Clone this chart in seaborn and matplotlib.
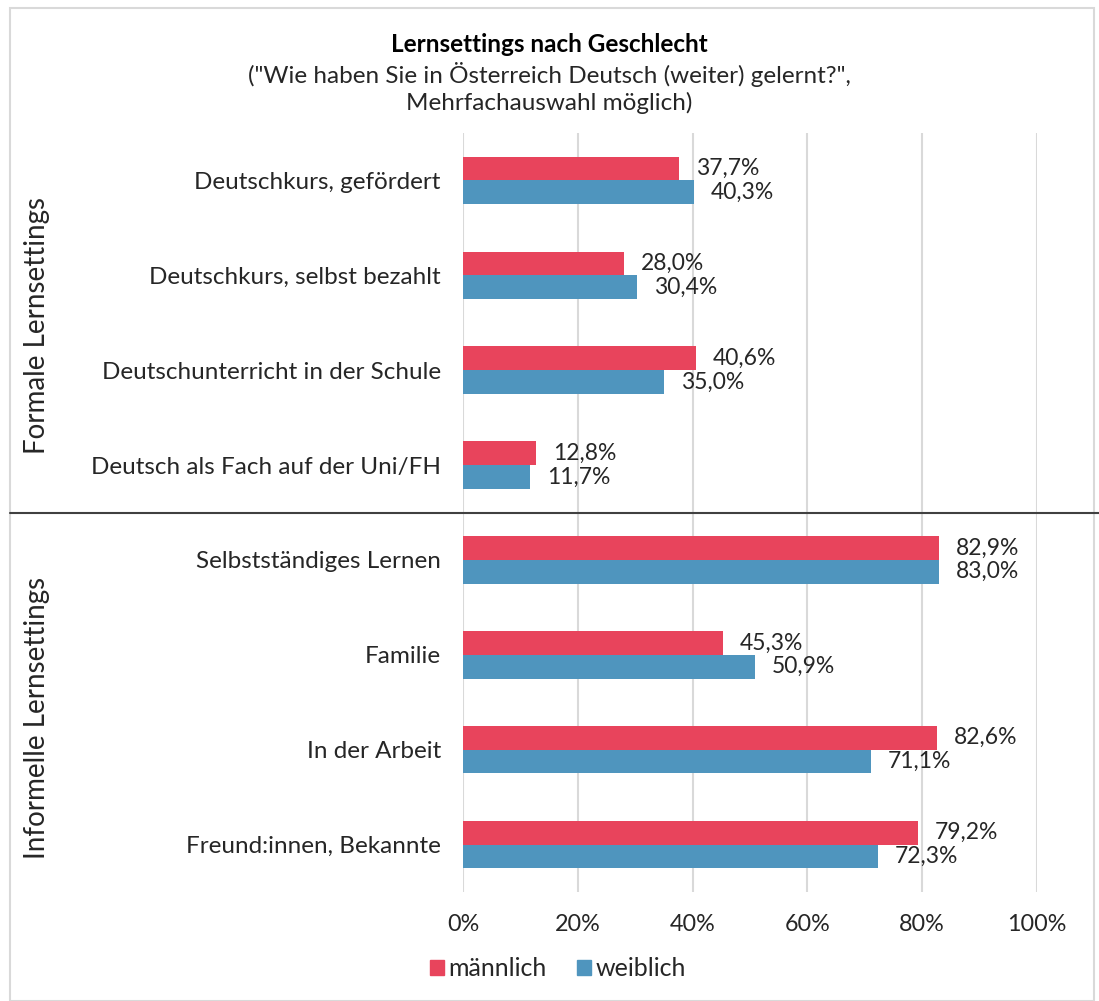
import pandas as pd
import matplotlib.pyplot as plt
import seaborn as sns
from matplotlib.patches import Rectangle
from matplotlib.lines import Line2D

CATEGORIES = ["Deutschkurs, gefördert", "Deutschkurs, selbst bezahlt",
              "Deutschunterricht in der Schule", "Deutsch als Fach auf der Uni/FH",
              "Selbstständiges Lernen", "Familie", "In der Arbeit",
              "Freund:innen, Bekannte"]
MAENNLICH = [37.7, 28.0, 40.6, 12.8, 82.9, 45.3, 82.6, 79.2]
WEIBLICH = [40.3, 30.4, 35.0, 11.7, 83.0, 50.9, 71.1, 72.3]
GENDERS = ["männlich", "weiblich"]
COLORS = ["#E8445C", "#4F95BE"]
GROUPS = ["Formale Lernsettings", "Informelle Lernsettings"]
X_TICKS = [0, 20, 40, 60, 80, 100]

df = pd.DataFrame({
    "setting": CATEGORIES * 2,
    "value": MAENNLICH + WEIBLICH,
    "gender": [GENDERS[0]] * len(CATEGORIES) + [GENDERS[1]] * len(CATEGORIES),
})

sns.set_theme(style="white")
plt.rcParams["font.family"] = ["Lato", "DejaVu Sans"]
TXT = "#262626"

fig = plt.figure(figsize=(10.99, 10.01), dpi=100)
ax = fig.add_axes([463 / 1099, 1 - 892 / 1001, 574 / 1099, 759 / 1001])

sns.barplot(data=df, y="setting", x="value", hue="gender", palette=COLORS,
            orient="h", width=0.5, ax=ax, legend=False, saturation=1,
            linewidth=0)

for container in ax.containers:
    labels = [f"{v:.1f}%".replace(".", ",") for v in container.datavalues]
    ax.bar_label(container, labels=labels, padding=12, fontsize=16.5, color=TXT)

ax.set_xlim(0, 100)
ax.set_xticks(X_TICKS)
ax.set_xticklabels([f"{t}%" for t in X_TICKS])
ax.set_ylim(7.5, -0.5)
ax.set_xlabel("")
ax.set_ylabel("")
ax.grid(axis="x", color="#d9d9d9", linewidth=1.5)
ax.set_axisbelow(True)
for s in ax.spines.values():
    s.set_visible(False)
ax.tick_params(axis="y", length=0, labelsize=17.5, labelcolor=TXT, pad=16)
ax.tick_params(axis="x", length=0, labelsize=16.8, labelcolor=TXT, pad=16)

# frame and separator between the two groups
fig.add_artist(Rectangle((10 / 1099, 0), 1084 / 1099, 1 - 8 / 1001,
                         transform=fig.transFigure, fill=False,
                         edgecolor="#d9d9d9", linewidth=1.5))
sep_y = ax.transData.transform((0, 3.5))[1]
sep_y = fig.transFigure.inverted().transform((0, sep_y))[1]
fig.add_artist(Line2D([10 / 1099, 1], [sep_y, sep_y], transform=fig.transFigure,
                      color="#404040", linewidth=1.5))

fig.text(37 / 1099, 1 - 325 / 1001, GROUPS[0], rotation=90, fontsize=20,
         ha="center", va="center", color=TXT)
fig.text(37 / 1099, 1 - 718 / 1001, GROUPS[1], rotation=90, fontsize=20,
         ha="center", va="center", color=TXT)

fig.text(0.5, 1 - 45 / 1001, "Lernsettings nach Geschlecht", fontsize=17.5,
         fontweight="bold", ha="center", va="center", color="black")
fig.text(0.5, 1 - 88 / 1001,
         "(\"Wie haben Sie in Österreich Deutsch (weiter) gelernt?\",\nMehrfachauswahl möglich)",
         fontsize=17.5, ha="center", va="center", color=TXT, linespacing=1.25)

handles = [Rectangle((0, 0), 1, 1, color=c) for c in COLORS]
fig.legend(handles, GENDERS, loc="center", bbox_to_anchor=(558 / 1099, 1 - 969 / 1001),
           ncol=2, frameon=False, fontsize=18, handlelength=0.55, handleheight=0.55,
           handletextpad=0.2, columnspacing=1.2, labelcolor=TXT)

fig.savefig("out.png", dpi=100)
